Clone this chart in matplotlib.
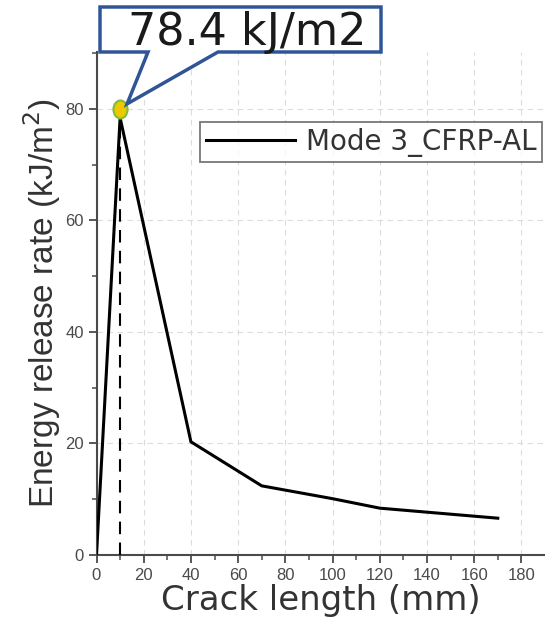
import matplotlib
matplotlib.use("Agg")
import matplotlib.pyplot as plt
from matplotlib.patches import Polygon
from matplotlib.path import Path
from matplotlib.transforms import Affine2D

# donnees
crack_length = [0, 10, 40, 70, 100, 120, 170]
energy_rate = [0, 78.4, 20.3, 12.4, 10.1, 8.4, 6.6]
peak_x = 10
peak_y = 80
peak_label = "78.4 kJ/m2"
serie_label = "Mode 3_CFRP-AL"
x_ticks = list(range(0, 181, 20))
y_ticks = list(range(0, 81, 20))

plt.rcParams["font.family"] = ["Liberation Sans", "DejaVu Sans"]
tick_font = ["Liberation Sans Narrow", "DejaVu Sans Condensed", "Liberation Sans"]
wide_font = ["DejaVu Sans"]

W, H = 545, 628
fig = plt.figure(figsize=(W / 100, H / 100), dpi=100)
ax = fig.add_axes([96.5 / W, 1 - 555 / H, (W - 96.5) / W, 503 / H])

ax.plot(crack_length, energy_rate, color="black", lw=2.2, label=serie_label, zorder=3)
ax.plot([peak_x, peak_x], [0, energy_rate[1]], color="black", lw=1.5,
        ls=(0, (6, 4)), zorder=3)
ellipse = Path.unit_circle().transformed(Affine2D().scale(0.78, 1.0))
ax.plot([peak_x], [peak_y], marker=ellipse, ms=13, mfc="#EEC900", mec="#7DBE3C",
        mew=1.5, zorder=5, clip_on=False)

ax.set_xlim(0, 190)
ax.set_ylim(0, 90.2)
ax.set_xticks(x_ticks)
ax.set_yticks(y_ticks)
ax.set_xticks(range(10, 181, 20), minor=True)
ax.set_yticks(range(10, 91, 20), minor=True)
ax.grid(True, which="major", color="#dcdcdc", ls=(0, (5, 4)), lw=0.8)

for s in ["top", "right"]:
    ax.spines[s].set_visible(False)
for s in ["left", "bottom"]:
    ax.spines[s].set_color("#4a4a4a")
    ax.spines[s].set_linewidth(1.5)

ax.tick_params(which="major", direction="out", length=6, width=1.3, color="#4a4a4a",
               labelsize=12, labelcolor="#4a4a4a", pad=3)
ax.tick_params(which="minor", direction="out", length=3.5, width=1.1, color="#4a4a4a")
for lab in ax.get_xticklabels() + ax.get_yticklabels():
    lab.set_family(tick_font)

ax.set_xlabel("Crack length (mm)", fontsize=24.5, color="#333333", labelpad=1,
              family=wide_font)
ax.set_ylabel("Energy release rate (kJ/m$^2$)", fontsize=24, color="#333333",
              labelpad=2)

leg = ax.legend(loc="upper right", bbox_to_anchor=(542 / W, 1 - 122 / H),
                bbox_transform=fig.transFigure, borderaxespad=0,
                prop={"family": wide_font, "size": 20},
                fancybox=False, frameon=True, handlelength=3.2, borderpad=0.2,
                handletextpad=0.4)
leg.get_frame().set_edgecolor("#555555")
leg.get_frame().set_linewidth(1.3)
for t in leg.get_texts():
    t.set_color("#333333")

# bulle d'annotation (coordonnees en pixels de la figure, origine en haut)
fig.canvas.draw()
px, py = ax.transData.transform((peak_x, peak_y))
px, py = px / W, py / H
box = [(100, 7), (381, 7), (381, 52), (218, 52), None, (148, 52), (100, 52)]
pts = []
for p in box:
    if p is None:
        pts.append((px + 7 / W, py + 5 / H))
    else:
        pts.append((p[0] / W, 1 - p[1] / H))
fig.patches.append(Polygon(pts, closed=True, transform=fig.transFigure,
                           fc="white", ec="#2F5597", lw=2.5, zorder=10))
fig.text(247 / W, 1 - 45 / H, peak_label, fontsize=32, color="#1a1a1a",
         ha="center", va="baseline", zorder=11, family=wide_font)

fig.savefig("out.png", dpi=100)
